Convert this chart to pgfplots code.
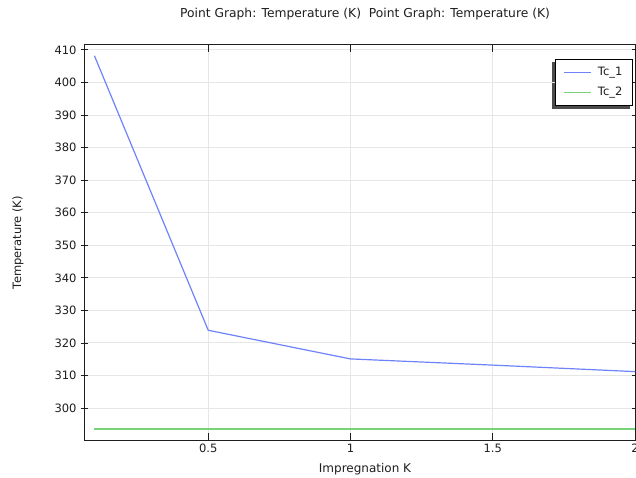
\documentclass[border=0pt]{standalone}
\usepackage{fontspec}
\setmainfont{DejaVu Sans}
\usepackage{pgfplots}
\pgfplotsset{compat=1.18}
\usetikzlibrary{backgrounds}
\definecolor{tcone}{RGB}{110,130,250}
\definecolor{tctwo}{RGB}{120,210,120}
\definecolor{gridgray}{RGB}{230,230,230}
\definecolor{txt}{RGB}{30,30,30}
\begin{document}
\fontsize{11.5}{13}\selectfont
\begin{tikzpicture}[x=1pt,y=1pt]
\path[use as bounding box] (0,0) rectangle (636,477);
\begin{scope}
\clip (0,0) rectangle (636,477);
\begin{axis}[
    at={(84pt,37pt)}, anchor=south west,
    scale only axis,
    width=551pt, height=395pt,
    xmin=0.0634, xmax=2.0,
    ymin=290.2, ymax=411.5,
    xtick={0.5,1,1.5,2},
    ytick={300,310,...,410},
    xticklabels={0.5,1,1.5,2},
    tick label style={font=\fontsize{11.5}{13}\selectfont, text=txt},
    /pgf/number format/assume math mode=true,
    xtick align=inside,
    ytick align=center,
    tick pos=both,
    major tick length=7pt,
    grid=major,
    grid style={gridgray, line width=1pt},
    axis line style={line width=1pt, txt},
    every tick/.style={txt, line width=0.8pt},
    xlabel={Impregnation K},
    ylabel={Temperature (K)},
    xlabel style={at={(axis description cs:0.51,-0.074)}, anchor=center, text=txt, font=\fontsize{12}{13}\selectfont},
    ylabel style={at={(axis description cs:-0.12,0.5)}, anchor=center, text=txt, font=\fontsize{11.5}{13}\selectfont},
    title={Point Graph: Temperature (K)\ \ Point Graph: Temperature (K)},
    title style={at={(axis description cs:0.51,1.063)}, anchor=center, text=txt, font=\fontsize{12.3}{13}\selectfont},
    legend style={
        name=leg,
        at={(0.996,0.965)}, anchor=north east,
        draw=black, line width=0.8pt, fill=white,
        font=\fontsize{11.5}{13}\selectfont, text=txt,
        row sep=6pt, inner xsep=8pt, inner ysep=6pt,
        /tikz/every odd column/.append style={column sep=4pt},
        legend cell align=left,
    },
    legend image code/.code={%
        \draw[#1, line width=1.2pt] (0pt,0pt) -- (27pt,0pt);},
    clip=false,
]
\addplot[tcone, line width=1.2pt] coordinates {
    (0.1,408.2) (0.5,323.9) (1,315.1) (1.5,313.2) (2,311.2)
};
\addlegendentry{Tc\_1}
\addplot[tctwo, line width=1.2pt] coordinates {
    (0.1,293.6) (0.5,293.6) (1,293.6) (1.5,293.6) (2,293.6)
};
\addlegendentry{Tc\_2}
\end{axis}
\begin{scope}[on background layer]
\fill[black!70] ([xshift=-3pt,yshift=-3pt]leg.south west) rectangle ([xshift=-3pt,yshift=-3pt]leg.north east);
\end{scope}
\end{scope}
\end{tikzpicture}
\end{document}
